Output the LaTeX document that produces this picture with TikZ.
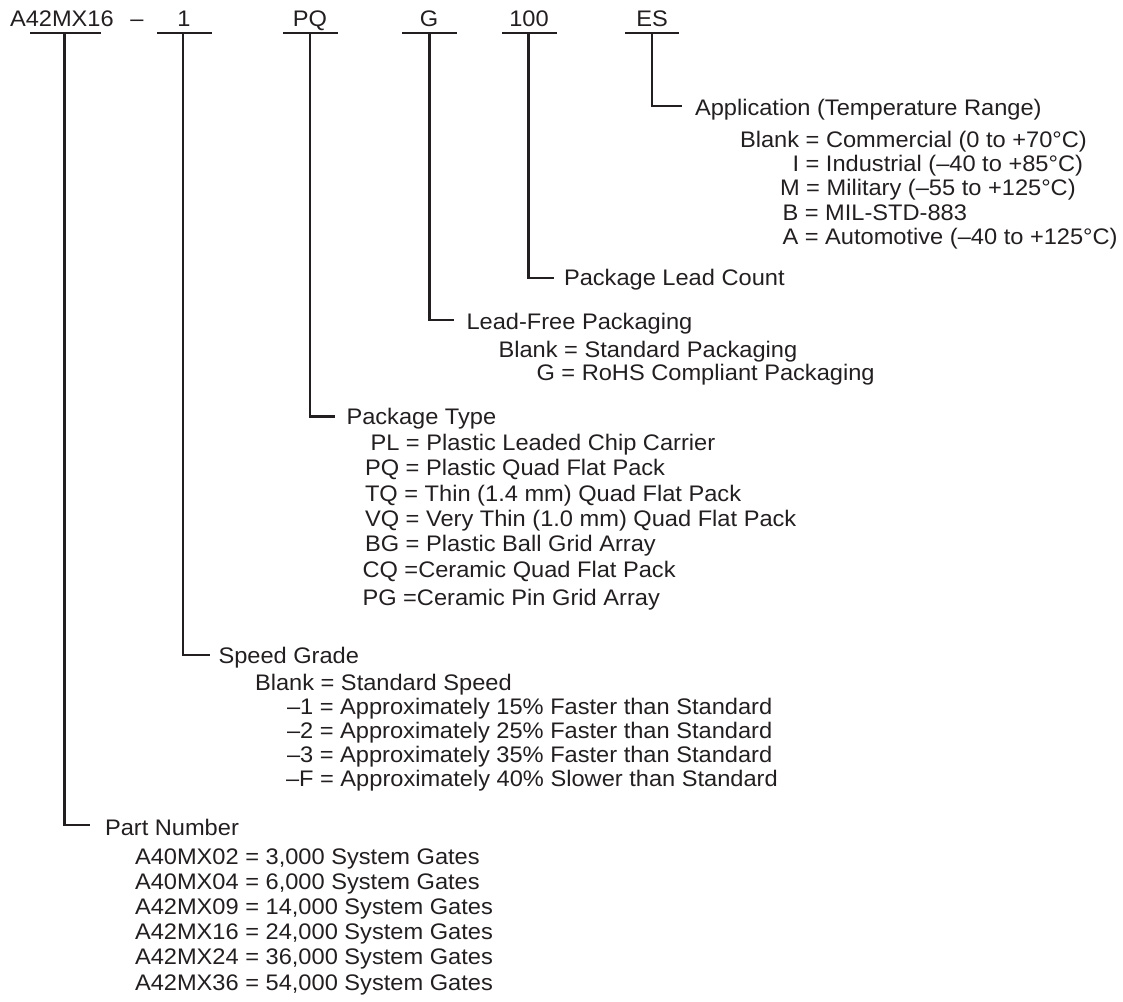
\documentclass[tikz,border=0pt]{standalone}
\usepackage{fontspec}
\setmainfont{Liberation Sans}[FakeStretch=1.05]
\definecolor{ink}{HTML}{231F20}
\begin{document}
\begin{tikzpicture}[x=1pt,y=-1pt,
  lbl/.style={inner sep=0pt, outer sep=0pt, anchor=base west, text=ink, font=\fontsize{22.5}{24}\selectfont},
  top/.style={lbl, anchor=base},
  conn/.style={draw=ink, line width=2.2pt}]
\useasboundingbox (0,0) rectangle (1123,1001);
% top row
\node[lbl] (tpn) at (10,26) {A42MX16};
\node[top] (tdash) at (137,26) {–};
\node[top] (tsg) at (184,26) {1};
\node[top] (tpt) at (310,26) {PQ};
\node[top] (tlf) at (429,26) {G};
\node[top] (tlc) at (529,26) {100};
\node[top] (tap) at (652,26) {ES};
% underline coordinates
\coordinate (ua1) at (30,33);  \coordinate (ub1) at (101,33);  \coordinate (um1) at (64.5,33);
\coordinate (ua2) at (157,33); \coordinate (ub2) at (212,33);  \coordinate (um2) at (183,33);
\coordinate (ua3) at (283,33); \coordinate (ub3) at (338,33);  \coordinate (um3) at (310,33);
\coordinate (ua4) at (402,33); \coordinate (ub4) at (457,33);  \coordinate (um4) at (429.5,33);
\coordinate (ua5) at (502,33); \coordinate (ub5) at (557,33);  \coordinate (um5) at (528.5,33);
\coordinate (ua6) at (625,33); \coordinate (ub6) at (679,33);  \coordinate (um6) at (652,33);
% corner end points
\coordinate (e1) at (90,825);
\coordinate (e2) at (210,655);
\coordinate (e3) at (335,416.5);
\coordinate (e4) at (454,320);
\coordinate (e5) at (554,278);
\coordinate (e6) at (682,106);
\foreach \i in {1,...,6} {
  \draw[conn] (ua\i) -- (ub\i);
  \draw[conn] (um\i) |- (e\i);
}
% Application
\node[lbl] (ap) at (695,115) {Application (Temperature Range)};
\node[lbl] (ap1) at (740,147) {Blank = Commercial (0 to +70°C)};
\node[lbl] (ap2) at (792.5,171) {I = Industrial (–40 to +85°C)};
\node[lbl] (ap3) at (780,195) {M = Military (–55 to +125°C)};
\node[lbl] (ap4) at (782.5,220) {B = MIL-STD-883};
\node[lbl] (ap5) at (782.5,244) {A = Automotive (–40 to +125°C)};
% Lead count
\node[lbl] (lc) at (564,285) {Package Lead Count};
% Lead free
\node[lbl] (lf) at (466.5,329) {Lead-Free Packaging};
\node[lbl] (lf1) at (498.5,357) {Blank = Standard Packaging};
\node[lbl] (lf2) at (536.5,380) {G = RoHS Compliant Packaging};
% Package type
\node[lbl] (pt) at (346.5,424) {Package Type};
\node[lbl] (pt1) at (370.5,450) {PL = Plastic Leaded Chip Carrier};
\node[lbl] (pt2) at (365,475) {PQ = Plastic Quad Flat Pack};
\node[lbl] (pt3) at (365,501) {TQ = Thin (1.4 mm) Quad Flat Pack};
\node[lbl] (pt4) at (365,526) {VQ = Very Thin (1.0 mm) Quad Flat Pack};
\node[lbl] (pt5) at (365,551) {BG = Plastic Ball Grid Array};
\node[lbl] (pt6) at (362.5,577) {CQ =Ceramic Quad Flat Pack};
\node[lbl] (pt7) at (362.5,605) {PG =Ceramic Pin Grid Array};
% Speed grade
\node[lbl] (sg) at (218.5,663) {Speed Grade};
\node[lbl] (sg1) at (255,690) {Blank = Standard Speed};
\node[lbl] (sg2) at (287,714) {–1 = Approximately 15\% Faster than Standard};
\node[lbl] (sg3) at (287,738) {–2 = Approximately 25\% Faster than Standard};
\node[lbl] (sg4) at (287,762) {–3 = Approximately 35\% Faster than Standard};
\node[lbl] (sg5) at (286,786) {–F = Approximately 40\% Slower than Standard};
% Part number
\node[lbl] (pn) at (105,835) {Part Number};
\node[lbl] (pn1) at (135,864) {A40MX02 = 3,000 System Gates};
\node[lbl] (pn2) at (135,889) {A40MX04 = 6,000 System Gates};
\node[lbl] (pn3) at (135,914) {A42MX09 = 14,000 System Gates};
\node[lbl] (pn4) at (135,939) {A42MX16 = 24,000 System Gates};
\node[lbl] (pn5) at (135,964) {A42MX24 = 36,000 System Gates};
\node[lbl] (pn6) at (135,990) {A42MX36 = 54,000 System Gates};
\end{tikzpicture}
\end{document}
